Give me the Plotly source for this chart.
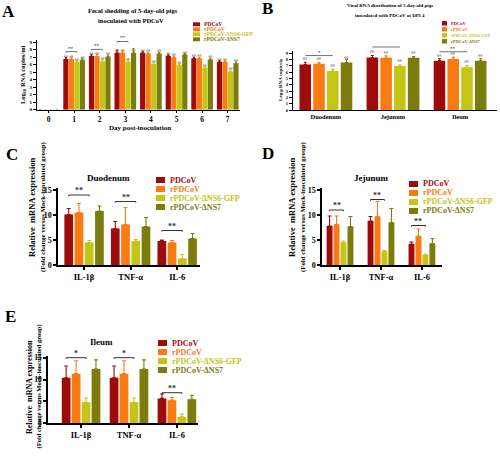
import plotly.graph_objects as go

W, H = 500, 473
FONT = "Liberation Serif"

series_names = ["PDCoV", "rPDCoV", "rPDCoV-ΔNS6-GFP", "rPDCoV-ΔNS7"]
series_colors = ["#9e0b0b", "#fa7b12", "#c4c514", "#7c7c0c"]

# ---------------- Panel A : fecal shedding ----------------
A_days = ["0", "1", "2", "3", "4", "5", "6", "7"]
A_PDCoV = [0, 6.75, 7.15, 7.6, 7.6, 7.2, 6.85, 6.4]
A_rPDCoV = [0, 6.75, 7.15, 7.6, 7.5, 7.0, 6.85, 6.4]
A_dNS6 = [0, 6.4, 6.45, 6.4, 6.1, 6.0, 5.6, 5.1]
A_dNS7 = [0, 6.65, 7.1, 7.6, 7.5, 7.35, 6.7, 6.2]
A_err_PDCoV = [0, 0.2, 0.2, 0.35, 0.15, 0.15, 0.15, 0.15]
A_err_rPDCoV = [0, 0.2, 0.25, 0.35, 0.15, 0.15, 0.15, 0.15]
A_err_dNS6 = [0, 0.15, 0.3, 0.4, 0.15, 0.15, 0.2, 0.2]
A_err_dNS7 = [0, 0.2, 0.2, 0.55, 0.15, 0.15, 0.15, 0.15]
A_marks = [None, "##", "##", "##", "##", "##", "##", "##"]
A_sig_days = [1, 2, 3]
A_sig_levels = [7.75, 8.05, 9.1]
A_sig_text = ["**", "**", "**"]

# ---------------- Panel B : viral RNA distribution ----------------
B_tissues = ["Duodenum", "Jejunum", "Ileum"]
B_PDCoV = [7.2, 8.3, 7.8]
B_rPDCoV = [7.3, 8.25, 8.05]
B_dNS6 = [6.15, 6.95, 6.75]
B_dNS7 = [7.5, 8.25, 7.8]
B_err_PDCoV = [0.35, 0.3, 0.3]
B_err_rPDCoV = [0.2, 0.3, 0.3]
B_err_dNS6 = [0.3, 0.2, 0.3]
B_err_dNS7 = [0.5, 0.2, 0.3]
B_marks = ["##", "##", "##"]
B_sig_levels = [8.6, 9.95, 9.2]
B_sig_text = ["*", "*", "**"]

# ---------------- Panels C, D, E : cytokine mRNA ----------------
cytokines = ["IL-1β", "TNF-α", "IL-6"]

C_PDCoV = [10.1, 7.3, 4.8]
C_rPDCoV = [10.5, 8.1, 4.5]
C_dNS6 = [4.5, 4.8, 1.3]
C_dNS7 = [10.8, 7.7, 5.3]
C_err_PDCoV = [1.2, 1.4, 0.2]
C_err_rPDCoV = [1.8, 3.4, 0.4]
C_err_dNS6 = [0.4, 0.3, 0.8]
C_err_dNS7 = [1.0, 1.8, 1.0]
C_sig_levels = [14.0, 12.7, 6.9]
C_sig_text = ["**", "**", "**"]

D_PDCoV = [7.8, 8.8, 4.2]
D_rPDCoV = [8.1, 9.7, 5.8]
D_dNS6 = [4.5, 2.7, 2.0]
D_dNS7 = [7.7, 8.5, 4.3]
D_err_PDCoV = [2.0, 0.9, 0.4]
D_err_rPDCoV = [1.7, 3.0, 1.4]
D_err_dNS6 = [0.3, 0.2, 0.15]
D_err_dNS7 = [2.0, 2.8, 1.0]
D_sig_levels = [11.0, 13.1, 7.9]
D_sig_text = ["**", "**", "**"]

E_PDCoV = [10.4, 10.4, 5.7]
E_rPDCoV = [11.35, 11.35, 5.3]
E_dNS6 = [4.8, 4.8, 1.5]
E_dNS7 = [12.4, 12.4, 5.5]
E_err_PDCoV = [2.7, 2.7, 1.0]
E_err_rPDCoV = [2.95, 2.95, 0.6]
E_err_dNS6 = [1.0, 1.0, 0.6]
E_err_dNS7 = [2.1, 2.1, 0.9]
E_sig_levels = [15.0, 15.0, 7.0]
E_sig_text = ["*", "*", "**"]

fig = go.Figure()
axes = {}
shapes = []
annots = []


def bold(size, color="black"):
    return dict(family=FONT, size=size, color=color, weight="bold")


def add_panel(idx, cats, vals_list, err_list, text_list, xdom, ydom, xrange, yrange,
              group, gap, xfont, yfont, ytickvals, linew, cap, txtsize, ticklen):
    sfx = "" if idx == 1 else str(idx)
    xa, ya = "x" + sfx, "y" + sfx
    n = len(cats)
    slot = group / 4
    for i in range(4):
        kw = {}
        if text_list:
            kw = dict(text=text_list[i], textposition="outside", textangle=0,
                      constraintext="none",
                      textfont=dict(family=FONT, size=txtsize, color="#333"))
        fig.add_trace(go.Bar(
            x=list(range(n)), y=vals_list[i],
            width=slot * (1 - gap), offset=-group / 2 + i * slot + slot * gap / 2,
            marker=dict(color=series_colors[i], line=dict(width=0)),
            error_y=dict(type="data", array=err_list[i], arrayminus=[0] * n, symmetric=False,
                         color=series_colors[i], thickness=1.1, width=cap),
            cliponaxis=False, showlegend=False, name=series_names[i],
            xaxis=xa, yaxis=ya, hoverinfo="skip", **kw))
    axes["xaxis" + sfx] = dict(
        domain=[xdom[0] / W, xdom[1] / W], range=list(xrange), anchor=ya,
        tickmode="array", tickvals=list(range(n)), ticktext=cats,
        showline=True, linecolor="black", linewidth=linew, ticks="outside",
        ticklen=ticklen, tickwidth=linew, tickcolor="black", automargin=False,
        showgrid=False, zeroline=False, tickfont=xfont, fixedrange=True)
    axes["yaxis" + sfx] = dict(
        domain=[1 - ydom[1] / H, 1 - ydom[0] / H], range=list(yrange), anchor=xa,
        tickmode="array", tickvals=ytickvals, ticktext=[str(v) for v in ytickvals],
        automargin=False, showline=True, linecolor="black", linewidth=linew,
        ticks="outside", ticklen=3, tickwidth=linew, tickcolor="black",
        showgrid=False, zeroline=False, tickfont=yfont, fixedrange=True)
    return xa, ya, group


def add_brackets(xa, ya, group, cats_idx, levels, texts, yrange, starsize, lw, drop):
    span = yrange[1] - yrange[0]
    slot = group / 4
    for c, lev, t in zip(cats_idx, levels, texts):
        x0 = c - group / 2 + slot * 0.5
        x1 = c - group / 2 + slot * 2.5
        yd = (lev - yrange[0]) / span
        dd = drop / span
        shapes.append(dict(type="path", xref=xa, yref=ya + " domain",
                           path=f"M {x0},{yd - dd} L {x0},{yd} L {x1},{yd} L {x1},{yd - dd}",
                           line=dict(color="#333", width=lw)))
        annots.append(dict(x=(x0 + x1) / 2, y=lev, xref=xa, yref=ya, text=t,
                           showarrow=False, yanchor="bottom", yshift=-2 if starsize > 6 else -1,
                           font=bold(starsize, "#333")))


def add_legend(mx0, mx1, row0, step, mh, tx, fsize):
    for i, name in enumerate(series_names):
        yc = row0 + i * step
        shapes.append(dict(type="rect", xref="paper", yref="paper",
                           x0=mx0 / W, x1=mx1 / W, y0=1 - (yc + mh / 2) / H, y1=1 - (yc - mh / 2) / H,
                           fillcolor=series_colors[i], line=dict(width=0)))
        annots.append(dict(x=tx / W, y=1 - yc / H, xref="paper", yref="paper", text=name,
                           showarrow=False, xanchor="left", yanchor="middle",
                           font=bold(fsize, series_colors[i])))


def label(x, y, text, size, angle=0, color="black", xanchor="center"):
    annots.append(dict(x=x / W, y=1 - y / H, xref="paper", yref="paper", text=text,
                       showarrow=False, xanchor=xanchor, yanchor="middle", textangle=angle,
                       font=bold(size, color)))


# ---- Panel A
A_range = (0, 9.3)
xa, ya, g = add_panel(1, A_days, [A_PDCoV, A_rPDCoV, A_dNS6, A_dNS7],
                      [A_err_PDCoV, A_err_rPDCoV, A_err_dNS6, A_err_dNS7],
                      [A_marks] * 4, (37, 240), (40.0, 109.7), (-0.45, 7.48), A_range,
                      0.86, 0.06, bold(7.5), bold(5), list(range(10)), 1, 1, 4, 2)
add_brackets(xa, ya, g, A_sig_days, A_sig_levels, A_sig_text, A_range, 5, 0.7, 0.12)

# ---- Panel B
B_range = (0, 9.4)
xa, ya, g = add_panel(2, B_tissues, [B_PDCoV, B_rPDCoV, B_dNS6, B_dNS7],
                      [B_err_PDCoV, B_err_rPDCoV, B_err_dNS6, B_err_dNS7],
                      [B_marks] * 4, (293, 497), (50.5, 110), (-0.49, 2.55), B_range,
                      0.82, 0.16, bold(6.5), bold(4.5), list(range(10)), 1, 1.5, 4.5, 0)
add_brackets(xa, ya, g, [0, 1, 2], B_sig_levels, B_sig_text, B_range, 5, 0.7, 0.0)

# ---- Panel C
C_range = (0, 15.4)
xa, ya, g = add_panel(3, cytokines, [C_PDCoV, C_rPDCoV, C_dNS6, C_dNS7],
                      [C_err_PDCoV, C_err_rPDCoV, C_err_dNS6, C_err_dNS7],
                      None, (58, 200), (188, 265), (-0.56, 2.49), C_range,
                      0.88, 0.15, bold(8.5), bold(8), [0, 5, 10, 15], 1.5, 2, 5, 3)
add_brackets(xa, ya, g, [0, 1, 2], C_sig_levels, C_sig_text, C_range, 8, 1, 0.25)

# ---- Panel D
xa, ya, g = add_panel(4, cytokines, [D_PDCoV, D_rPDCoV, D_dNS6, D_dNS7],
                      [D_err_PDCoV, D_err_rPDCoV, D_err_dNS6, D_err_dNS7],
                      None, (322, 442), (188, 265), (-0.44, 2.49), C_range,
                      0.68, 0.15, bold(8.5), bold(8), [0, 5, 10, 15], 1.5, 2, 5, 3)
add_brackets(xa, ya, g, [0, 1, 2], D_sig_levels, D_sig_text, C_range, 8, 1, 0.25)

# ---- Panel E
E_range = (0, 15.3)
xa, ya, g = add_panel(5, cytokines, [E_PDCoV, E_rPDCoV, E_dNS6, E_dNS7],
                      [E_err_PDCoV, E_err_rPDCoV, E_err_dNS6, E_err_dNS7],
                      None, (48, 198), (356.4, 423.3), (-0.69, 2.44), E_range,
                      0.83, 0.12, bold(8.5), bold(7.5), [0, 5, 10, 15], 1.5, 2, 5, 3)
add_brackets(xa, ya, g, [0, 1, 2], E_sig_levels, E_sig_text, E_range, 8, 1, 0.3)

# ---- Legends
add_legend(193, 200, 24.3, 5, 4, 202, 5.6)
add_legend(442, 447, 23.3, 6, 4.5, 449, 4.5)
add_legend(156, 165, 180, 9, 6, 168, 8)
add_legend(409, 418, 184, 9, 6, 421, 8)
add_legend(158, 167, 343, 9, 6, 170, 8)

# ---- Titles & labels
label(8.5, 11, "A", 17)
label(267.5, 9, "B", 17)
label(12, 155, "C", 17)
label(268, 153, "D", 17)
label(10, 316, "E", 17)

label(133, 10, "Fecal shedding of 5-day-old pigs", 6.5)
label(131, 20, "inoculated with PDCoV", 6.5)
label(390, 5, "Viral RNA distribution of 5-day-old pigs", 5)
label(390, 15, "inoculated with PDCoV at DPI 4", 5)
label(140, 128, "Day post-inoculation", 7)
label(23, 75, "Log<sub>10</sub> RNA copies/ml", 6.5, -90)
label(281, 80, "Log<sub>10</sub> RNA copies/g", 5, -90)

label(108, 178, "Duodenum", 9)
label(371, 178, "Jejunum", 9)
label(101, 342, "Ileum", 9)

for (x1, x2, yc, s1, s2) in [(32, 43, 207, 8.5, 6.8), (292, 303, 207, 8.5, 6.8),
                             (29, 38.5, 387, 8, 6.5)]:
    label(x1, yc, "Relative  mRNA expression", s1, -90)
    label(x2, yc, "(Fold change versus Mock-inoculated group)", s2, -90)

fig.update_layout(
    template="none",
    width=W, height=H, margin=dict(l=0, r=0, t=0, b=0, autoexpand=False),
    paper_bgcolor="white", plot_bgcolor="white",
    barmode="overlay", showlegend=False,
    font=dict(family=FONT, color="black"),
    shapes=shapes, annotations=annots, **axes)

fig.write_html("out.html", config={"displayModeBar": False},
               post_script="document.body.style.margin='0';document.body.style.padding='0';")
